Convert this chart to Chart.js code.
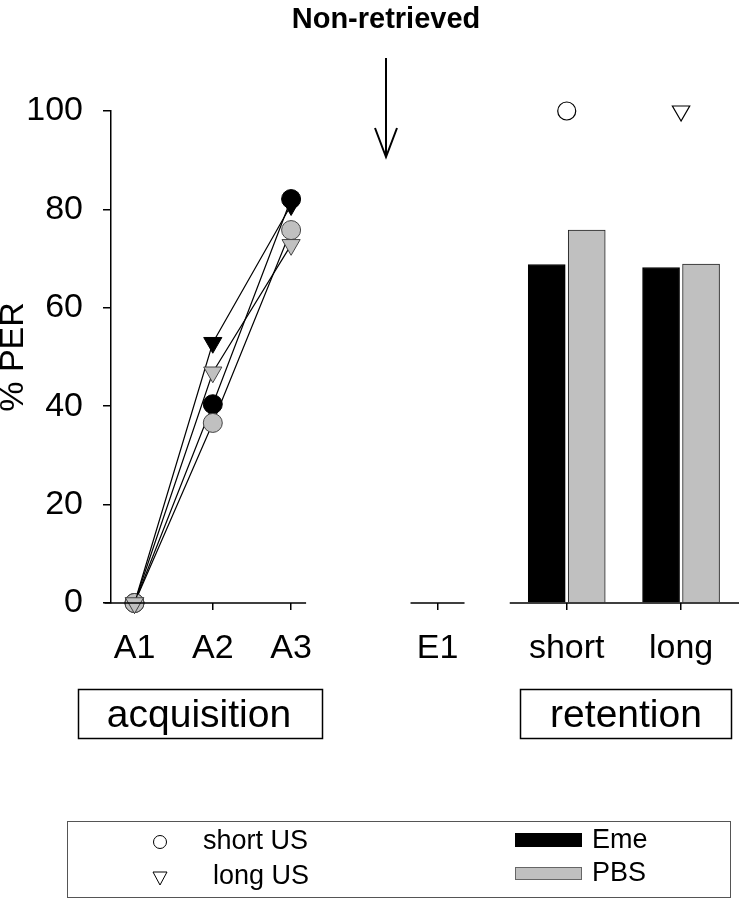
<!DOCTYPE html>
<html>
<head>
<meta charset="utf-8">
<script src="https://cdn.jsdelivr.net/npm/chart.js@4.4.0/dist/chart.umd.min.js"></script>
<style>
body { margin: 0; background: #fff; }
canvas { display: block; }
</style>
</head>
<body>
<canvas id="perChart" width="739" height="900"></canvas>
<script>
// x axis: tick labels and their place on the (broken) x axis
var tickLabels = ["A1", "A2", "A3", "E1", "short", "long"];
var tickPos = [1, 2, 3, 4.87, 6.52, 7.98];

// acquisition trials A1..A3, % PER
var trialX = [1, 2, 3];
var emeShortUS = [0, 40.4, 82.1];
var pbsShortUS = [0, 36.6, 75.8];
var emeLongUS = [0, 52.9, 80.9];
var pbsLongUS = [0, 46.9, 72.8];

// retention test (short, long)
var retentionX = [6.52, 7.98];
var emeRetention = [68.8, 68.2];
var pbsRetention = [75.8, 68.9];
var usMarks = [100, 100];

var gray = '#c0c0c0';
var fontFam = "'Liberation Sans', Arial, sans-serif";

function pts(xs, ys) {
	return xs.map(function (x, i) { return { x: x, y: ys[i] }; });
}

function lineSet(ys, fill, style) {
	return {
		type: 'line',
		data: pts(trialX, ys),
		borderColor: '#000',
		borderWidth: 1.2,
		tension: 0,
		clip: false,
		pointStyle: style,
		rotation: style === 'triangle' ? 180 : 0,
		pointRadius: style === 'triangle' ? 10.5 : 9.5,
		pointBackgroundColor: fill,
		pointBorderColor: fill === '#000' ? '#000' : '#444',
		pointBorderWidth: 1
	};
}

// axis breaks, boxes, arrow, title and the legend
var decor = {
	id: 'decor',
	afterDraw: function (chart) {
		var ctx = chart.ctx;
		var xs = chart.scales.x;
		var y0 = chart.scales.y.getPixelForValue(0);
		var px = tickPos.map(function (v) { return xs.getPixelForValue(v); });
		ctx.save();
		ctx.strokeStyle = '#000';
		ctx.lineWidth = 1.5;
		ctx.beginPath();
		ctx.moveTo(px[0] - 30, y0); ctx.lineTo(px[2] + 15, y0);
		ctx.moveTo(px[3] - 27, y0); ctx.lineTo(px[3] + 27, y0);
		ctx.moveTo(px[4] - 57, y0); ctx.lineTo(chart.chartArea.right, y0);
		ctx.stroke();

		// arrow
		ctx.lineWidth = 2;
		ctx.beginPath();
		ctx.moveTo(386, 58); ctx.lineTo(386, 157);
		ctx.moveTo(375, 128); ctx.lineTo(386, 157); ctx.lineTo(397, 128);
		ctx.stroke();

		ctx.fillStyle = '#000';
		ctx.textAlign = 'center';
		ctx.textBaseline = 'alphabetic';
		ctx.font = 'bold 29px ' + fontFam;
		ctx.fillText('Non-retrieved', 386, 28);

		// phase boxes
		ctx.lineWidth = 1.5;
		ctx.strokeRect(78.5, 689.5, 244, 49);
		ctx.strokeRect(520.5, 689.5, 211, 49);
		ctx.font = '39px ' + fontFam;
		ctx.textBaseline = 'middle';
		ctx.fillText('acquisition', 199, 716);
		ctx.fillText('retention', 626, 716);

		// legend
		ctx.lineWidth = 1;
		ctx.strokeStyle = '#555';
		ctx.strokeRect(67.5, 821.5, 663, 76);
		ctx.strokeStyle = '#000';
		ctx.beginPath();
		ctx.arc(160, 842, 6.5, 0, Math.PI * 2);
		ctx.stroke();
		ctx.beginPath();
		ctx.moveTo(153, 872); ctx.lineTo(167, 872); ctx.lineTo(160, 885); ctx.closePath();
		ctx.stroke();
		ctx.fillRect(515, 833, 67, 14);
		ctx.fillStyle = gray;
		ctx.fillRect(515, 867, 67, 13);
		ctx.strokeStyle = '#666';
		ctx.strokeRect(515.5, 867.5, 66, 12);
		ctx.fillStyle = '#000';
		ctx.textAlign = 'left';
		ctx.font = '27px ' + fontFam;
		ctx.fillText('short US', 203, 842);
		ctx.fillText('long US', 213, 877);
		ctx.fillText('Eme', 592, 841);
		ctx.fillText('PBS', 592, 874);
		ctx.restore();
	}
};

var ctx = document.getElementById('perChart');
var perChart = new Chart(ctx, {
	type: 'bar',
	data: {
		datasets: [
			{
				type: 'scatter',
				data: pts(retentionX, usMarks),
				clip: false,
				pointStyle: ['circle', 'triangle'],
				rotation: [0, 180],
				pointRadius: [9, 10],
				pointBackgroundColor: '#fff',
				pointBorderColor: '#000',
				pointBorderWidth: 1.2
			},
			// first dataset is drawn on top
			lineSet(pbsLongUS, gray, 'triangle'),
			lineSet(pbsShortUS, gray, 'circle'),
			lineSet(emeLongUS, '#000', 'triangle'),
			lineSet(emeShortUS, '#000', 'circle'),
			{
				label: 'Eme',
				data: pts(retentionX, emeRetention),
				backgroundColor: '#000',
				borderColor: '#000',
				borderWidth: 1,
				barThickness: 40,
				maxBarThickness: 37
			},
			{
				label: 'PBS',
				data: pts(retentionX, pbsRetention),
				backgroundColor: gray,
				borderColor: '#222',
				borderWidth: 1,
				barThickness: 40,
				maxBarThickness: 37
			}
		]
	},
	options: {
		responsive: false,
		animation: false,
		devicePixelRatio: 1,
		layout: { autoPadding: false, padding: { top: 111, left: 0, right: 0, bottom: 0 } },
		plugins: { legend: { display: false }, tooltip: { enabled: false } },
		scales: {
			x: {
				type: 'linear',
				min: 0.7,
				max: 8.72,
				offset: false,
				afterBuildTicks: function (s) {
					s.ticks = tickPos.map(function (v) { return { value: v }; });
				},
				afterFit: function (s) {
					s.height = 297;
					s.paddingLeft = 0;
					s.paddingRight = 0;
				},
				border: { display: false },
				grid: { offset: false, drawOnChartArea: false, drawTicks: true, tickLength: 7, color: '#000', lineWidth: 1.5 },
				ticks: {
					autoSkip: false,
					maxRotation: 0,
					padding: 18,
					color: '#000',
					font: { family: fontFam, size: 34 },
					callback: function (v) {
						var i = tickPos.indexOf(v);
						return i < 0 ? '' : tickLabels[i];
					}
				}
			},
			y: {
				min: 0,
				max: 100,
				afterFit: function (s) { s.width = 111; },
				border: { display: true, color: '#000', width: 1.5 },
				grid: { drawOnChartArea: false, tickLength: 8, color: '#000', lineWidth: 1.5 },
				ticks: { stepSize: 20, padding: 20, color: '#000', font: { family: fontFam, size: 34 } },
				title: { display: true, text: '% PER', color: '#000', font: { family: fontFam, size: 34 }, padding: { top: -7, bottom: 0 } }
			}
		}
	},
	plugins: [decor]
});
</script>
</body>
</html>
